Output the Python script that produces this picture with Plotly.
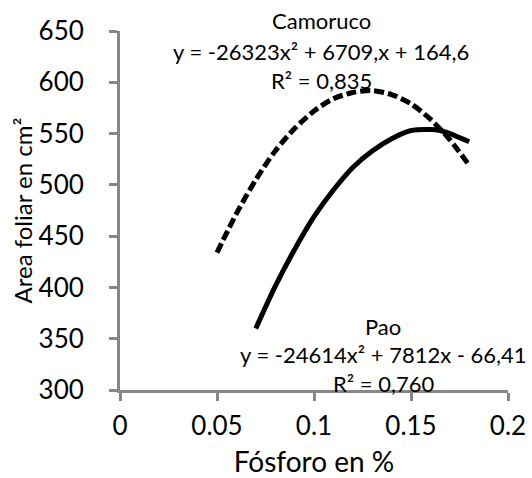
import plotly.graph_objects as go

# Fósforo (%) y área foliar (cm²)
camoruco_x = [0.05, 0.06, 0.07, 0.08, 0.09, 0.10, 0.11, 0.12, 0.13, 0.14, 0.15, 0.16, 0.17, 0.18]
camoruco_y = [434, 472, 505, 533, 555, 572, 584, 590, 592, 588, 579, 564, 544, 519]

pao_x = [0.07, 0.08, 0.09, 0.10, 0.11, 0.12, 0.13, 0.14, 0.15, 0.16, 0.165, 0.17, 0.18]
pao_y = [360, 401, 437, 469, 495, 517, 533, 545, 553, 554, 553, 550, 542]

x_ticks = [0, 0.05, 0.1, 0.15, 0.2]
x_labels = ["0", "0.05", "0.1", "0.15", "0.2"]

FONT = "Lato"
AXIS_GRAY = "#878787"

# zona del gráfico en píxeles
L, R, T, B = 120, 508, 31, 390
W, H = 532, 478

fig = go.Figure()
fig.add_trace(go.Scatter(x=camoruco_x, y=camoruco_y, mode="lines", name="Camoruco",
                         line=dict(color="black", width=5, dash="10px,4px", shape="spline", smoothing=0.8)))
fig.add_trace(go.Scatter(x=pao_x, y=pao_y, mode="lines", name="Pao",
                         line=dict(color="black", width=5, shape="spline", smoothing=0.8)))

# etiquetas de las líneas de tendencia
labels = [
    (321, 21, "Camoruco"),
    (321, 51, "y = -26323x² + 6709,x + 164,6"),
    (321, 80, "R² = 0,835"),
    (383, 326, "Pao"),
    (383, 354, "y = -24614x² + 7812x - 66,41"),
    (383, 383, "R² = 0,760"),
]
for px, py, txt in labels:
    fig.add_annotation(x=(px - L) / (R - L), y=(B - py) / (B - T), xref="paper", yref="paper",
                       text=txt, showarrow=False, xanchor="center", yanchor="middle",
                       font=dict(family=FONT, size=22, color="black"))

fig.update_layout(
    width=W, height=H,
    margin=dict(l=L, r=W - R, t=T, b=H - B, autoexpand=False),
    paper_bgcolor="white", plot_bgcolor="white",
    showlegend=False,
    font=dict(family=FONT, size=26, color="black"),
)
fig.update_xaxes(range=[0, 0.2], tickvals=x_ticks, ticktext=x_labels, automargin=False,
                 showgrid=False, zeroline=False, showline=True, linecolor=AXIS_GRAY, linewidth=3,
                 ticks="outside", ticklen=8, tickwidth=3, tickcolor=AXIS_GRAY,
                 ticklabelstandoff=3,
                 title=dict(text="Fósforo en %", font=dict(size=28), standoff=18))
fig.update_yaxes(range=[300, 650], dtick=50, automargin=False,
                 showgrid=False, zeroline=False, showline=True, linecolor=AXIS_GRAY, linewidth=3,
                 ticks="outside", ticklen=8, tickwidth=3, tickcolor=AXIS_GRAY,
                 ticklabelstandoff=20,
                 title=dict(text="Area foliar en cm²", font=dict(size=24), standoff=0))

# sin margen de página, para que la figura empiece en la esquina
fig.write_html("out.html", config={"displayModeBar": False},
               post_script="document.body.style.margin='0';")
